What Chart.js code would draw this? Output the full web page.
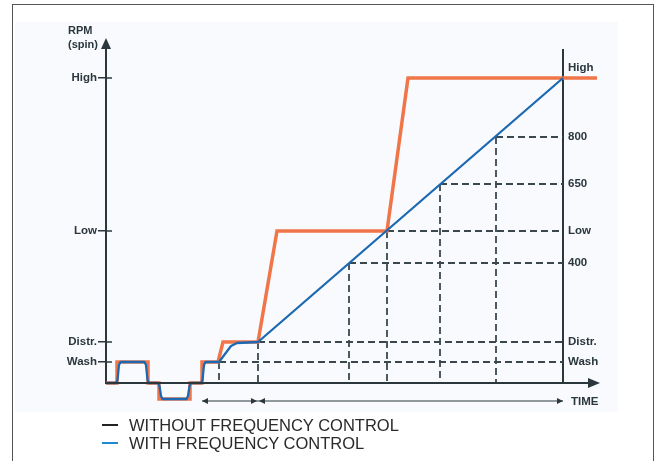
<!DOCTYPE html>
<html><head><meta charset="utf-8">
<script src="https://cdn.jsdelivr.net/npm/chart.js@4.4.1/dist/chart.umd.min.js"></script>
<style>
html,body{margin:0;padding:0;background:#fff;}
#wrap{position:relative;width:658px;height:461px;overflow:hidden;font-family:"Liberation Sans",Arial,sans-serif;}
#tint{position:absolute;left:15px;top:22px;width:603px;height:390px;background:#f9fafd;}
#frame{position:absolute;left:12px;top:4px;width:642px;height:480px;border:1.5px solid #555;box-sizing:border-box;pointer-events:none;}
canvas{position:absolute;left:0;top:0;}
#legend{position:absolute;left:102px;top:416px;font-size:16.5px;color:#2a2a2a;line-height:18px;}
.item{display:flex;align-items:center;height:18px;white-space:nowrap;}
.dash{width:16px;height:2px;margin-right:11px;}
</style></head>
<body>
<div id="wrap">
  <div id="tint"></div>
  <canvas id="c" width="658" height="461"></canvas>
  <div id="legend"></div>
  <div id="frame"></div>
</div>
<script>
// ---- data (relative time units / relative spin-speed units) ----
const seriesNames = ['WITHOUT FREQUENCY CONTROL', 'WITH FREQUENCY CONTROL'];
const timeWithout = [0, 11, 11, 42, 42, 53, 53, 84, 84, 96, 96, 112, 117, 152, 171, 281, 302, 491];
const rpmWithout  = [0, 0, 21, 21, 0, 0, -16, -16, 0, 0, 21, 21, 41, 41, 152, 152, 305, 305];
const timeWith    = [0, 10, 11.5, 13, 14.5, 38.5, 40, 41.5, 43, 52, 53.5, 55, 56.5, 80.5, 82, 83.5, 85, 95, 96.5, 98, 99.5, 113, 125, 131, 152, 457, 491];
const rpmWith     = [0, 0, 3, 18, 21, 21, 18, 3, 0, 0, -3, -13, -16, -16, -13, -3, 0, 0, 3, 18, 21, 21, 37, 40, 41, 305, 305];
const leftTickLabels  = ['High', 'Low', 'Distr.', 'Wash'];
const leftTickValues  = [305, 152, 41, 21];
const rightTickLabels = ['High', '800', '650', 'Low', '400', 'Distr.', 'Wash'];
const rightTickValues = [305, 246, 199, 152, 120, 41, 21];
const guideTimes  = [113, 152, 243, 281, 334, 390];
const guideLevels = [21, 41, 120, 152, 199, 246];
const rightAxisTime = 457;
const xAxisEnd = 494;
const timeMarks = [96, 152, 457];
const yTitle = ['RPM', '(spin)'];
const xTitle = 'TIME';

const axisColor = '#2a373d';
const orange = '#f0764a';
const blue = '#1c69b3';
const tickFont = {family: '"Liberation Sans", Arial, sans-serif', size: 11.5, weight: 'bold'};

const toPts = (xs, ys) => xs.map((t, i) => ({x: t, y: ys[i]}));
const guidePts = [];
guideTimes.forEach((t, i) => {
  guidePts.push({x: t, y: guideLevels[i]}, {x: rightAxisTime, y: guideLevels[i]}, {x: t, y: null});
  guidePts.push({x: t, y: guideLevels[i]}, {x: t, y: 0}, {x: t, y: null});
});

function tri(ctx, x, y, dir, len, half) {
  ctx.beginPath();
  if (dir === 'right') { ctx.moveTo(x, y); ctx.lineTo(x - len, y - half); ctx.lineTo(x - len, y + half); }
  if (dir === 'left')  { ctx.moveTo(x, y); ctx.lineTo(x + len, y - half); ctx.lineTo(x + len, y + half); }
  if (dir === 'up')    { ctx.moveTo(x, y); ctx.lineTo(x - half, y + len); ctx.lineTo(x + half, y + len); }
  ctx.closePath(); ctx.fill();
}

const overlay = {
  id: 'overlay',
  afterDatasetsDraw(chart) {
    const {ctx, scales: {x, y}, chartArea} = chart;
    const ax = x.getPixelForValue(0);
    const ay = y.getPixelForValue(0);
    ctx.save();
    ctx.strokeStyle = axisColor; ctx.fillStyle = axisColor;
    // x axis with arrow
    const xe = x.getPixelForValue(xAxisEnd);
    ctx.lineWidth = 2;
    ctx.beginPath(); ctx.moveTo(ax - 1, ay); ctx.lineTo(xe - 8, ay); ctx.stroke();
    tri(ctx, xe, ay, 'right', 12, 5);
    // y axis arrow
    ctx.beginPath(); ctx.moveTo(ax, chartArea.top + 1); ctx.lineTo(ax, chartArea.top - 4); ctx.stroke();
    tri(ctx, ax, chartArea.top - 12, 'up', 11, 5);
    // inner left tick marks
    ctx.lineWidth = 1.5;
    leftTickValues.forEach(v => {
      const py = y.getPixelForValue(v);
      ctx.beginPath(); ctx.moveTo(ax, py); ctx.lineTo(ax + 6, py); ctx.stroke();
    });
    // time arrows
    const ty = ay + 18;
    ctx.lineWidth = 1.2;
    ctx.beginPath();
    ctx.moveTo(x.getPixelForValue(timeMarks[0]), ty);
    ctx.lineTo(x.getPixelForValue(timeMarks[timeMarks.length - 1]), ty);
    ctx.stroke();
    timeMarks.forEach((t, i) => {
      const px = x.getPixelForValue(t);
      if (i === 0) tri(ctx, px, ty, 'left', 6, 3);
      else if (i === timeMarks.length - 1) tri(ctx, px, ty, 'right', 6, 3);
      else { tri(ctx, px - 1, ty, 'right', 6, 3); tri(ctx, px + 1, ty, 'left', 6, 3); }
    });
    // texts
    ctx.font = 'bold 11.5px "Liberation Sans", Arial, sans-serif';
    ctx.textBaseline = 'middle'; ctx.textAlign = 'left';
    ctx.fillText(xTitle, x.getPixelForValue(rightAxisTime) + 8, ty + 1);
    ctx.font = 'bold 11px "Liberation Sans", Arial, sans-serif';
    ctx.fillText(yTitle[0], 68, 31);
    ctx.fillText(yTitle[1], 68, 45);
    ctx.restore();
  }
};

new Chart(document.getElementById('c'), {
  type: 'line',
  data: {
    datasets: [
      {label: seriesNames[1], data: toPts(timeWith, rpmWith), borderColor: blue, borderWidth: 2.3,
       pointRadius: 0, tension: 0, clip: false, order: 0, borderJoinStyle: 'round'},
      {label: seriesNames[0], data: toPts(timeWithout, rpmWithout), borderColor: orange, borderWidth: 3.5,
       pointRadius: 0, tension: 0, clip: false, order: 1, borderJoinStyle: 'miter'},
      {label: 'guides', data: guidePts, borderColor: '#3a484e', borderWidth: 1.8, borderDash: [7, 4],
       pointRadius: 0, spanGaps: false, clip: false, order: 2}
    ]
  },
  options: {
    responsive: false,
    animation: false,
    layout: {padding: {top: 50, bottom: 78, left: 0, right: 0}},
    plugins: {legend: {display: false}, tooltip: {enabled: false}},
    scales: {
      x: {type: 'linear', min: 0, max: rightAxisTime, display: false},
      y: {
        type: 'linear', position: 'left', min: 0, max: 333,
        afterFit(s) { s.width = 106; },
        afterBuildTicks(s) { s.ticks = leftTickValues.map(v => ({value: v})); },
        ticks: {autoSkip: false, font: tickFont, color: axisColor, padding: 1,
                callback: (v, i) => leftTickLabels[i]},
        grid: {display: true, drawOnChartArea: false, drawTicks: true, tickLength: 8, color: axisColor, lineWidth: 1.5},
        border: {display: true, color: axisColor, width: 2}
      },
      y2: {
        type: 'linear', position: 'right', min: 0, max: 333,
        afterFit(s) { s.width = 95; },
        afterBuildTicks(s) { s.ticks = rightTickValues.map(v => ({value: v})); },
        ticks: {autoSkip: false, font: Object.assign({}, tickFont, {lineHeight: '20px'}), color: axisColor, padding: 5,
                callback: (v, i) => i === 0 ? [rightTickLabels[i], ''] : rightTickLabels[i]},
        grid: {display: true, drawOnChartArea: false, drawTicks: false},
        border: {display: true, color: axisColor, width: 2}
      }
    }
  },
  plugins: [overlay]
});

const legendColors = ['#222222', '#1e88d0'];
const lg = document.getElementById('legend');
seriesNames.forEach((n, i) => {
  const d = document.createElement('div'); d.className = 'item';
  d.innerHTML = '<span class="dash" style="background:' + legendColors[i] + '"></span><span>' + n + '</span>';
  lg.appendChild(d);
});
</script>
</body></html>
